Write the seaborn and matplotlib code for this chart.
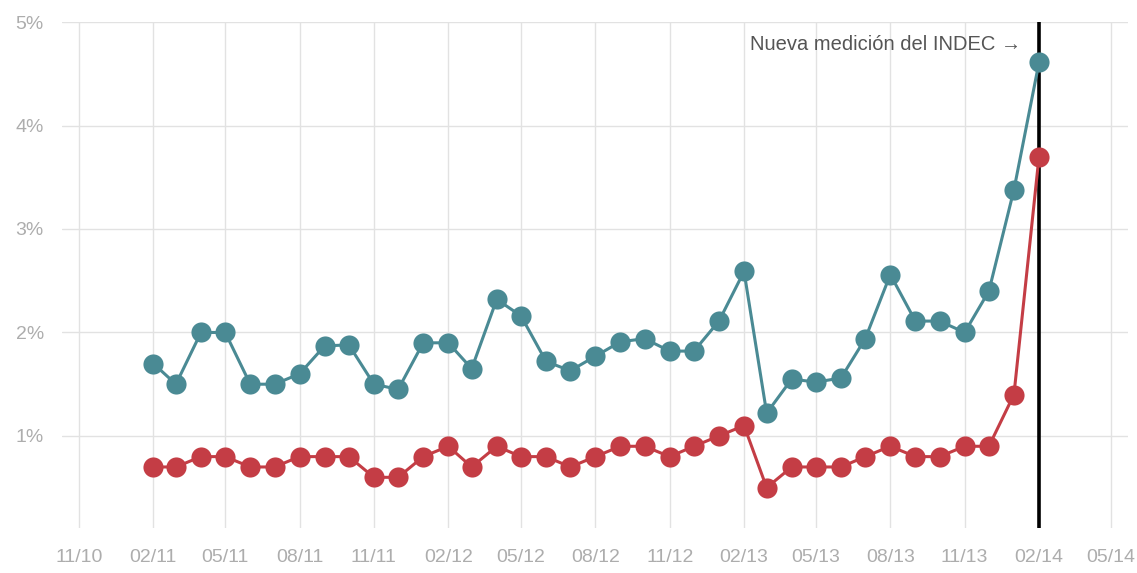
import pandas as pd
import seaborn as sns
import matplotlib.pyplot as plt
import matplotlib.dates as mdates

months = pd.date_range('2011-02-01', '2014-02-01', freq='MS')

serie_azul = [1.70, 1.50, 2.00, 2.00, 1.50, 1.50, 1.60, 1.87, 1.88, 1.50, 1.45, 1.90, 1.90,
              1.65, 2.32, 2.16, 1.72, 1.63, 1.77, 1.91, 1.94, 1.82, 1.82, 2.11, 2.59,
              1.22, 1.55, 1.52, 1.56, 1.94, 2.56, 2.11, 2.11, 2.00, 2.40, 3.38, 4.61]
serie_roja = [0.70, 0.70, 0.80, 0.80, 0.70, 0.70, 0.80, 0.80, 0.80, 0.60, 0.60, 0.80, 0.90,
              0.70, 0.90, 0.80, 0.80, 0.70, 0.80, 0.90, 0.90, 0.80, 0.90, 1.00, 1.10,
              0.50, 0.70, 0.70, 0.70, 0.80, 0.90, 0.80, 0.80, 0.90, 0.90, 1.40, 3.70]

df = pd.concat([
    pd.DataFrame({'fecha': months, 'valor': serie_azul, 'serie': 'azul'}),
    pd.DataFrame({'fecha': months, 'valor': serie_roja, 'serie': 'roja'}),
])

sns.set_style('white')
plt.rcParams['font.family'] = ['Liberation Sans', 'DejaVu Sans']

fig = plt.figure(figsize=(11.37, 5.73), dpi=100)
ax = fig.add_axes([0.0545, 0.0785, 0.9375, 0.883])

ax.axvline(pd.Timestamp('2014-02-01'), color='black', lw=2.6, zorder=1)

palette = {'azul': '#4a8a94', 'roja': '#c43d45'}
sns.lineplot(data=df, x='fecha', y='valor', hue='serie', palette=palette,
             marker='o', markersize=14.5, markeredgewidth=0, linewidth=2.2,
             legend=False, ax=ax, zorder=3)

ax.set_xlim(pd.Timestamp('2010-10-11'), pd.Timestamp('2014-05-22'))
ax.set_ylim(0.11, 5.0)
ax.set_yticks([1, 2, 3, 4, 5])
ax.set_yticklabels(['1%', '2%', '3%', '4%', '5%'])
ax.xaxis.set_major_locator(mdates.MonthLocator(bymonth=[2, 5, 8, 11]))
ax.xaxis.set_major_formatter(mdates.DateFormatter('%m/%y'))

ax.grid(True, color='#e2e2e2', lw=1)
ax.set_axisbelow(True)
for s in ax.spines.values():
    s.set_visible(False)
ax.tick_params(axis='both', length=0, labelsize=14, colors='#adadad')
ax.tick_params(axis='x', pad=15)
ax.tick_params(axis='y', pad=13)
ax.set_xlabel('')
ax.set_ylabel('')

ax.text(pd.Timestamp('2014-01-10'), 4.78, 'Nueva medición del INDEC \u2192',
        ha='right', va='center', fontsize=14.5, color='#555555')

plt.savefig('out.png', dpi=100)
plt.close()
